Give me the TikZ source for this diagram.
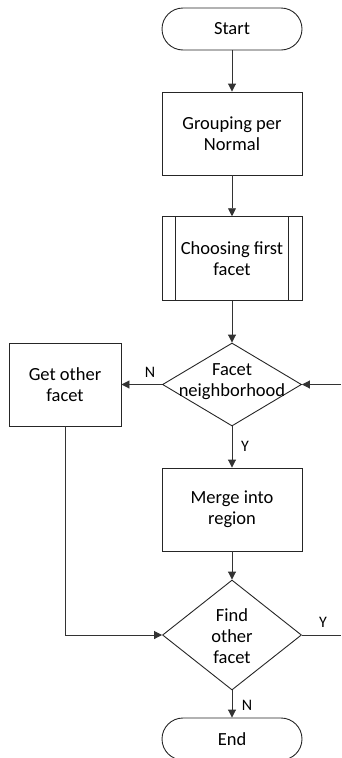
\documentclass[tikz,border=0pt]{standalone}
\usepackage{fontspec}
\setmainfont{Carlito}
\usetikzlibrary{shapes.geometric,arrows.meta}
\begin{document}
\begin{tikzpicture}[x=1pt,y=-1pt,
  every node/.style={font=\fontsize{18.5}{21}\selectfont, text=black},
  terminal/.style={draw=black!85, line width=0.9pt, rectangle, rounded corners=21pt,
    minimum width=140pt, minimum height=42pt, inner sep=0pt},
  process/.style={draw=black!85, line width=0.9pt, rectangle, align=center,
    minimum width=140pt, minimum height=83pt, inner sep=0pt},
  decision/.style={draw=black!85, line width=0.9pt, diamond, inner sep=0pt,
    minimum width=139pt},
  label/.style={align=center, inner sep=0pt},
  flow/.style={draw=black!80, line width=0.9pt, -{Triangle[length=8pt,width=8pt]}},
  flowline/.style={draw=black!80, line width=0.9pt},
  tag/.style={font=\fontsize{16}{18}\selectfont, inner sep=0pt}
]
\useasboundingbox (0,0) rectangle (341,758);

% main column of steps
\node[terminal] (start) at (232,29) {Start};
\node[process] (group) at (232,133.5) {Grouping per\\Normal};
\node[process, minimum height=84pt] (choose) at (232,258.7) {Choosing first\\facet};
\draw[black!85, line width=0.9pt] ([xshift=14pt]choose.north west) -- ([xshift=14pt]choose.south west)
  ([xshift=-14pt]choose.north east) -- ([xshift=-14pt]choose.south east);
\node[decision, minimum height=83pt] (nbr) at (232,384.5) {};
\node[label] at (232,382) {Facet\\neighborhood};
\node[process, minimum width=112pt] (other) at (65,384.5) {Get other\\facet};
\node[process] (merge) at (232,509.5) {Merge into\\region};
\node[decision, minimum height=110pt] (find) at (232,635) {};
\node[label] at (232,636) {Find\\other\\facet};
\node[terminal] (end) at (232,739) {End};

% free ends at the right border
\coordinate (loopin) at (341,384.5);
\coordinate (loopout) at (341,635);
\coordinate (bend) at (65,635);

% connectors
\draw[flow] (start) -- (group);
\draw[flow] (group) -- (choose);
\draw[flow] (choose) -- (nbr);
\draw[flow] (nbr.west) -- (other.east);
\draw[flow] (loopin) -- (nbr.east);
\draw[flow] (nbr.south) -- (merge.north);
\draw[flow] (merge) -- (find.north);
\draw[flow] (other.south) -- (bend) -- (find.west);
\draw[flowline] (find.east) -- (loopout);
\draw[flow] (find.south) -- (end.north);

% branch tags
\node[tag] at (150,372) {N};
\node[tag] at (245,446) {Y};
\node[tag] at (323,622) {Y};
\node[tag] at (247,705) {N};
\end{tikzpicture}
\end{document}
